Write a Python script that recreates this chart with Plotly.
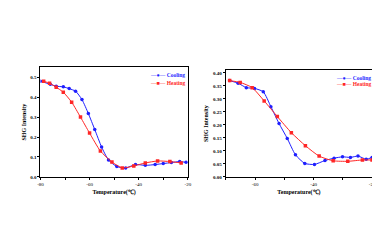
import plotly.graph_objects as go
from plotly.subplots import make_subplots

# left panel
cool1_t = [-80, -76, -73.6, -70.7, -68.3, -65.7, -63.1, -60.5, -57.9, -55.1, -52.3, -48.9, -45.3, -41.3, -37.3, -33.3, -30, -26.7, -23.3, -20.7]
cool1_y = [0.48, 0.465, 0.455, 0.452, 0.443, 0.43, 0.388, 0.318, 0.238, 0.15, 0.085, 0.052, 0.045, 0.062, 0.058, 0.062, 0.067, 0.072, 0.077, 0.073]
heat1_t = [-78.7, -76.3, -73.6, -70.7, -67.3, -63.7, -60, -55.6, -50.9, -46.7, -42, -37.3, -32.3, -27.3, -22.7]
heat1_y = [0.48, 0.47, 0.45, 0.425, 0.375, 0.30, 0.22, 0.13, 0.075, 0.045, 0.055, 0.07, 0.08, 0.077, 0.07]

# right panel
cool2_t = [-68.7, -65.8, -63, -60.2, -57.2, -54.6, -51.8, -49, -46.2, -43, -39.7, -36.1, -33, -30.1, -27.4, -24.8, -22, -20]
cool2_y = [0.37, 0.36, 0.343, 0.34, 0.327, 0.27, 0.205, 0.148, 0.085, 0.052, 0.048, 0.063, 0.072, 0.077, 0.075, 0.08, 0.068, 0.075]
heat2_t = [-68.7, -65.1, -61.0, -56.9, -52.4, -47.6, -42.8, -38.1, -33.3, -28.3, -23.3, -20]
heat2_y = [0.37, 0.363, 0.343, 0.292, 0.232, 0.17, 0.12, 0.08, 0.062, 0.06, 0.065, 0.065]

series_names = ["Cooling", "Heating"]

blue = "#1f1fff"
red = "#ff2626"
font = "Liberation Serif"

fig = make_subplots(rows=1, cols=2)

def add(t, y, name, color, sym, col):
    fig.add_trace(go.Scatter(x=t, y=y, name=name, mode="lines+markers",
                             line=dict(color=color, width=1, shape="spline", smoothing=0.6),
                             marker=dict(color=color, size=3.5, symbol=sym),
                             showlegend=False), row=1, col=col)

add(cool1_t, cool1_y, series_names[0], blue, "circle", 1)
add(heat1_t, heat1_y, series_names[1], red, "square", 1)
add(cool2_t, cool2_y, series_names[0], blue, "circle", 2)
add(heat2_t, heat2_y, series_names[1], red, "square", 2)

ax = dict(showline=True, linecolor="black", linewidth=1, mirror=True, ticks="outside",
          ticklen=2, tickwidth=1, tickcolor="black", showgrid=False, zeroline=False,
          tickfont=dict(family=font, size=5, color="black"),
          title_font=dict(family=font, size=6, color="black"), title_standoff=3)

fig.update_xaxes(ax)
fig.update_yaxes(ax)
fig.update_xaxes(domain=[0.079, 0.474], range=[-80, -20], tickvals=[-80, -70, -60, -50, -40, -30, -20],
                 ticktext=["-80", "", "-60", "", "-40", "", "-20"], title_text="<b>Temperature(℃)</b>", row=1, col=1)
fig.update_xaxes(domain=[0.576, 0.968], range=[-70, -20], tickvals=[-70, -60, -50, -40, -30, -20],
                 ticktext=["", "-60", "", "-40", "", "-20"], title_text="<b>Temperature(℃)</b>", row=1, col=2)
fig.update_yaxes(domain=[0.302, 0.755], range=[0, 0.55], dtick=0.1, tickformat=".1f",
                 title_text="<b>SHG Intensity</b>", row=1, col=1)
fig.update_yaxes(domain=[0.302, 0.743], range=[0, 0.41], dtick=0.05, tickformat=".2f",
                 title_text="<b>SHG Intensity</b>", row=1, col=2)
fig.update_xaxes(tickprefix="<b>", ticksuffix="</b>")
fig.update_yaxes(tickprefix="<b>", ticksuffix="</b>")

# legends drawn as text inside each panel
def legend(x, y0, y1):
    for yy, name, color, sym in [(y0, series_names[0], blue, "●"), (y1, series_names[1], red, "■")]:
        fig.add_annotation(xref="paper", yref="paper", x=x, y=yy, xanchor="left", yanchor="middle",
                           showarrow=False,
                           text=f'<span style="color:{color}">—{sym}—</span> <b>{name}</b>',
                           font=dict(family=font, size=5.5, color=color))

legend(0.366, 0.722, 0.692)
legend(0.866, 0.712, 0.686)

fig.update_layout(
    width=380, height=245, margin=dict(l=0, r=0, t=0, b=0),
    paper_bgcolor="white", plot_bgcolor="white",
)

fig.write_html("out.html")
